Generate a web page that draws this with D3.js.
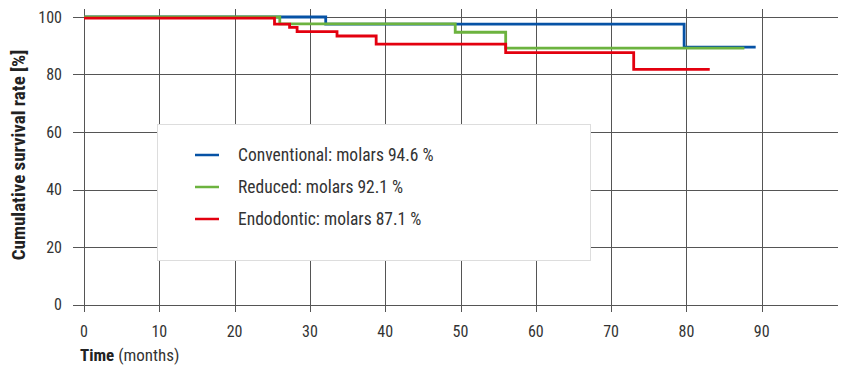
<!DOCTYPE html>
<html>
<head>
<meta charset="utf-8">
<title>Cumulative survival rate</title>
<script src="https://cdn.jsdelivr.net/npm/d3@7"></script>
<style>
  html, body { margin: 0; padding: 0; background: #fff; }
  svg { display: block; font-family: "Liberation Sans Narrow", "Roboto Condensed", "DejaVu Sans Condensed", sans-serif; }
  .grid line { stroke: #555; stroke-width: 1; shape-rendering: crispEdges; }
  .tick-label { fill: #333; font-size: 16px; }
</style>
</head>
<body>
<div id="chart"></div>
<script>
// step points: month where each step starts, and the rate from there on
var convMonths = [0, 32.1, 79.7, 89.2];
var convRates  = [100, 97.5, 89.5, 89.5];
var redMonths  = [0, 26.0, 49.3, 56.0, 87.7];
var redRates   = [100, 97.6, 94.7, 89.2, 89.2];
var endoMonths = [0, 25.3, 27.3, 28.3, 33.6, 38.8, 56.0, 73.0, 83.1];
var endoRates  = [99.6, 97.5, 96.4, 94.9, 93.4, 90.6, 87.6, 81.8, 81.8];

var xTicks = [0, 10, 20, 30, 40, 50, 60, 70, 80, 90];
var yTicks = [0, 20, 40, 60, 80, 100];

var seriesNames  = ["Conventional: molars 94.6 %", "Reduced: molars 92.1 %", "Endodontic: molars 87.1 %"];
var seriesColors = ["#0652a5", "#6cb33f", "#e3000f"];

var w = 851, h = 367;
var svg = d3.select("#chart").append("svg")
    .attr("width", w)
    .attr("height", h);

var x = d3.scaleLinear().domain([0, 100]).range([84, 837]);
var y = d3.scaleLinear().domain([0, 100]).range([304.5, 17]);

// grid: vertical lines stick out a bit above and below, horizontal ones to the left
var grid = svg.append("g").attr("class", "grid");
grid.selectAll("line.v").data(xTicks).enter().append("line")
    .attr("class", "v")
    .attr("x1", function(d) { return Math.round(x(d)) + 0.5; })
    .attr("x2", function(d) { return Math.round(x(d)) + 0.5; })
    .attr("y1", 9).attr("y2", 312);
grid.selectAll("line.h").data(yTicks).enter().append("line")
    .attr("class", "h")
    .attr("x1", 73).attr("x2", 838)
    .attr("y1", function(d) { return Math.round(y(d)) + 0.5; })
    .attr("y2", function(d) { return Math.round(y(d)) + 0.5; });

// tick labels
svg.selectAll("text.xl").data(xTicks).enter().append("text")
    .attr("class", "tick-label xl")
    .attr("x", function(d) { return x(d); })
    .attr("y", 337)
    .attr("text-anchor", "middle")
    .text(function(d) { return d; });
svg.selectAll("text.yl").data(yTicks).enter().append("text")
    .attr("class", "tick-label yl")
    .attr("x", 62)
    .attr("y", function(d) { return y(d) + 5.5; })
    .attr("text-anchor", "end")
    .text(function(d) { return d; });

// axis titles
svg.append("text")
    .attr("transform", "translate(25,155) rotate(-90)")
    .attr("text-anchor", "middle")
    .style("font-size", "19px")
    .style("font-weight", "bold")
    .style("fill", "#222")
    .text("Cumulative survival rate [%]");
var xt = svg.append("text")
    .attr("x", 80).attr("y", 361)
    .style("font-size", "17px")
    .style("fill", "#333");
xt.append("tspan").style("font-weight", "bold").style("fill", "#222").text("Time");
xt.append("tspan").text(" (months)");

// legend box
var leg = svg.append("g");
leg.append("rect")
    .attr("x", 157.5).attr("y", 124.5)
    .attr("width", 433).attr("height", 136)
    .attr("fill", "#fff")
    .attr("stroke", "#ddd");
var legRows = leg.selectAll("g.row").data(seriesNames).enter().append("g")
    .attr("transform", function(d, i) { return "translate(0," + (155 + i * 32) + ")"; });
legRows.append("line")
    .attr("x1", 195).attr("x2", 219)
    .attr("stroke", function(d, i) { return seriesColors[i]; })
    .attr("stroke-width", 2.5);
legRows.append("text")
    .attr("x", 238).attr("y", 6)
    .style("font-size", "17.5px")
    .style("fill", "#333")
    .text(function(d) { return d; });

// survival curves
var line = d3.line()
    .x(function(d) { return x(d[0]); })
    .y(function(d) { return y(d[1]); })
    .curve(d3.curveStepAfter);

var curves = [
  d3.zip(convMonths, convRates),
  d3.zip(redMonths, redRates),
  d3.zip(endoMonths, endoRates)
];

svg.selectAll("path.curve").data(curves).enter().append("path")
    .attr("class", "curve")
    .attr("d", line)
    .attr("fill", "none")
    .attr("stroke", function(d, i) { return seriesColors[i]; })
    .attr("stroke-width", 2.8);
</script>
</body>
</html>
